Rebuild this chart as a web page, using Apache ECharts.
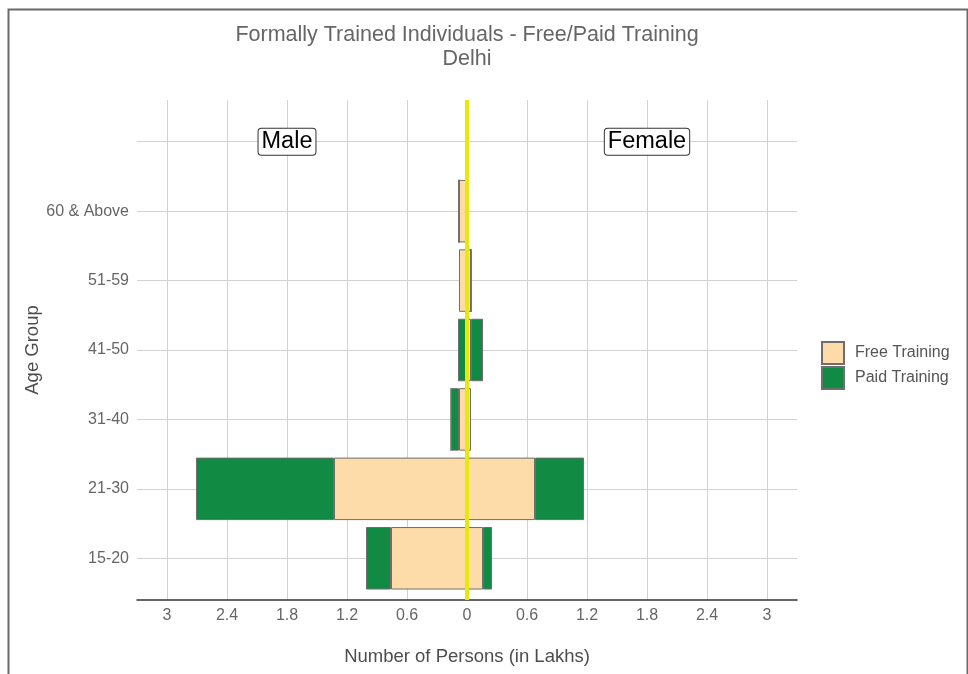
<!DOCTYPE html>
<html>
<head>
<meta charset="utf-8">
<script src="https://cdn.jsdelivr.net/npm/echarts@6/dist/echarts.min.js"></script>
<style>
  html, body { margin: 0; padding: 0; background: #fff; }
  #chart { width: 968px; height: 674px; }
</style>
</head>
<body>
<div id="chart"></div>
<script>
// age groups, bottom to top; the last blank slot holds the Male / Female tags
const ageGroups = ["15-20", "21-30", "31-40", "41-50", "51-59", "60 & Above", ""];
// number of persons in lakhs
const maleFree = [0.76, 1.33, 0.08, 0.01, 0.08, 0.08];
const malePaid = [0.25, 1.38, 0.08, 0.08, 0, 0];
const femaleFree = [0.16, 0.68, 0.04, 0.04, 0.04, 0];
const femalePaid = [0.09, 0.49, 0, 0.12, 0, 0];
const xTicks = [-3, -2.4, -1.8, -1.2, -0.6, 0, 0.6, 1.2, 1.8, 2.4, 3];
const sexTags = [{ name: "Male", x: -1.8 }, { name: "Female", x: 1.8 }];

const FONT = "Liberation Sans, Arial, sans-serif";
const FREE = "#fddcaa";
const PAID = "#118a44";
const EDGE = "#6e6e6e";
const GRIDLINE = "#d2d2d2";

const chart = echarts.init(document.getElementById("chart"));

// bars for one side: values made negative on the male side
function barSeries(name, values, color, sign, extra) {
  return Object.assign({
    name: name,
    type: "bar",
    stack: "all",
    xAxisIndex: 0,
    yAxisIndex: 0,
    barCategoryGap: "10%",
    itemStyle: { color: color, borderColor: EDGE, borderWidth: 1 },
    emphasis: { disabled: true },
    data: values.map(v => sign * v)
  }, extra || {});
}

const option = {
  animation: false,
  textStyle: { fontFamily: FONT },
  title: {
    text: "Formally Trained Individuals - Free/Paid Training\nDelhi",
    left: 467,
    top: 23,
    padding: 0,
    textAlign: "center",
    textStyle: { fontFamily: FONT, fontSize: 21.5, fontWeight: "normal", color: "#666", lineHeight: 24 }
  },
  legend: {
    data: ["Free Training", "Paid Training"],
    orient: "vertical",
    left: 821,
    top: 341,
    padding: 0,
    icon: "rect",
    itemWidth: 22,
    itemHeight: 22,
    itemGap: 1,
    textStyle: { fontFamily: FONT, fontSize: 16, color: "#555", padding: [0, 0, 0, 6] }
  },
  graphic: [{
    type: "rect",
    left: 6, top: 7,
    shape: { width: 959, height: 700 },
    style: { fill: "none", stroke: "#6a6a6a", lineWidth: 2 },
    silent: true
  }],
  grid: [
    // bar area, band layout matches the reference
    { left: 137, top: 107, width: 660, height: 486 },
    // full panel: vertical grid lines, x axis, zero line
    { left: 137, top: 100, width: 660, height: 500 }
  ],
  xAxis: [
    { gridIndex: 0, type: "value", min: -3.3, max: 3.3, show: false },
    {
      gridIndex: 1, type: "value", min: -3.3, max: 3.3,
      name: "Number of Persons (in Lakhs)",
      nameLocation: "middle",
      nameGap: 47,
      nameMoveOverlap: false,
      nameTextStyle: { fontFamily: FONT, fontSize: 18.5, color: "#4d4d4d" },
      axisLine: { show: true, lineStyle: { color: "#333", width: 1.5 } },
      axisTick: { show: false, customValues: xTicks },
      axisLabel: {
        customValues: xTicks,
        margin: 8,
        fontFamily: FONT, fontSize: 16, color: "#666",
        formatter: v => String(Math.abs(Math.round(v * 10) / 10))
      },
      splitLine: { show: true, lineStyle: { color: GRIDLINE, width: 1 } }
    }
  ],
  yAxis: [
    {
      gridIndex: 0, type: "category", data: ageGroups,
      name: "Age Group",
      nameLocation: "middle",
      nameGap: 95,
      nameMoveOverlap: false,
      nameTextStyle: { fontFamily: FONT, fontSize: 18.5, color: "#4d4d4d" },
      axisLine: { show: false },
      axisTick: { show: true, alignWithLabel: true, length: 4, lineStyle: { color: GRIDLINE } },
      axisLabel: { margin: 8, fontFamily: FONT, fontSize: 16, color: "#666" },
      splitLine: { show: true, alignWithLabel: true, lineStyle: { color: GRIDLINE, width: 1 } }
    },
    { gridIndex: 1, type: "value", min: 0, max: 1, show: false }
  ],
  series: [
    barSeries("Free Training", maleFree, FREE, -1, {
      markPoint: {
        symbol: "rect",
        symbolSize: 0,
        silent: true,
        label: {
          show: true,
          position: "inside",
          formatter: p => p.name,
          fontFamily: FONT, fontSize: 23.5, color: "#000",
          backgroundColor: "#fff", borderColor: "#333", borderWidth: 1, borderRadius: 3,
          padding: [2, 3, 0, 3]
        },
        data: sexTags.map(t => ({ name: t.name, coord: [t.x, ageGroups.length - 1] }))
      }
    }),
    barSeries("Free Training", femaleFree, FREE, 1),
    barSeries("Paid Training", malePaid, PAID, -1),
    barSeries("Paid Training", femalePaid, PAID, 1),
    {
      // zero line across the whole panel
      type: "scatter",
      xAxisIndex: 1,
      yAxisIndex: 1,
      data: [],
      z: 10,
      markLine: {
        silent: true,
        symbol: "none",
        label: { show: false },
        lineStyle: { color: "#e8e80a", width: 4, type: "solid" },
        data: [{ xAxis: 0 }]
      }
    }
  ]
};

chart.setOption(option);
</script>
</body>
</html>
